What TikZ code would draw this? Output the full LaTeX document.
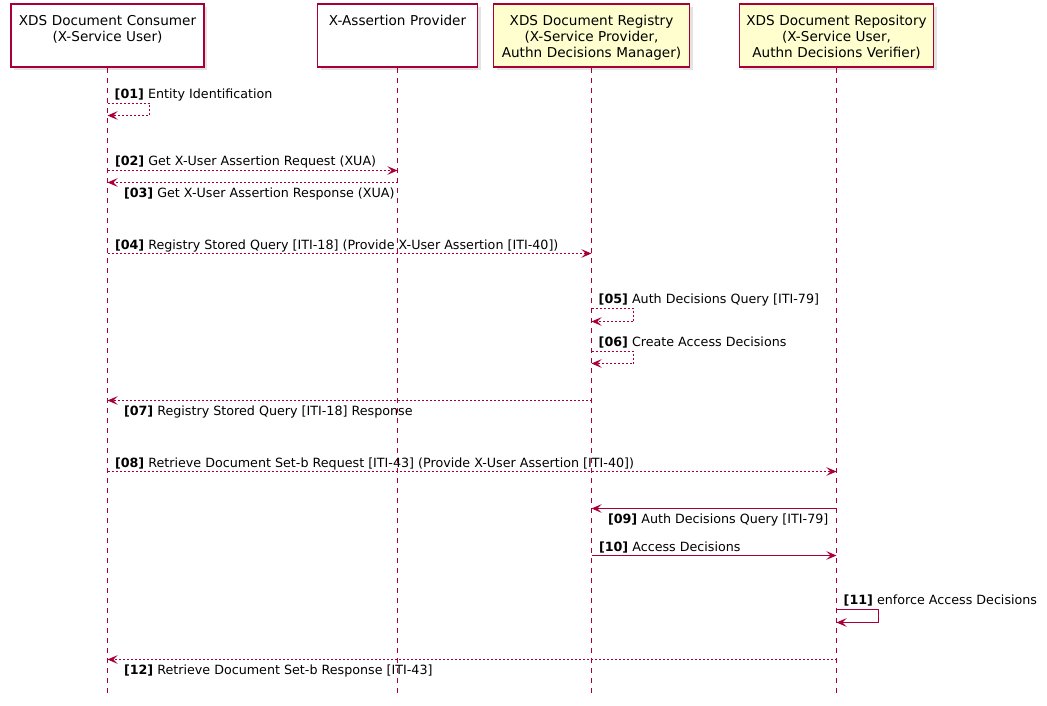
\documentclass[tikz,border=0pt]{standalone}
\usepackage{fontspec}
\setmainfont{DejaVu Sans}
\usetikzlibrary{arrows.meta,shadows}
\definecolor{uml}{HTML}{A80036}
\definecolor{pale}{HTML}{FEFECE}
\definecolor{shade}{HTML}{C8C8C8}
\newcommand{\nr}[1]{\textbf{[#1]}}
\tikzset{box/.style={draw=uml,line width=1.5pt,fill=white,anchor=north,align=center,
            text height=10pt,text depth=31pt,inner xsep=2pt,inner ysep=11pt,
            font=\fontsize{13.6}{16}\selectfont,
            drop shadow={shadow xshift=3pt,shadow yshift=-3pt,fill=shade,draw=none}},
         ybox/.style={box,fill=pale},
         life/.style={draw=uml,line width=1pt,dash pattern=on 5pt off 5pt},
         msg/.style={draw=uml,line width=1pt,-{Stealth[length=10pt,width=8.5pt,inset=4pt,fill=uml]}},
         dot/.style={msg,dash pattern=on 2pt off 2pt},
         txt/.style={anchor=base west,inner sep=0,xshift=7pt,yshift=4.5pt,text=black,font=\fontsize{12.7}{14}\selectfont},
         txtb/.style={anchor=base west,inner sep=0,xshift=16pt,yshift=-15pt,text=black,font=\fontsize{12.7}{14}\selectfont}}

\begin{document}
\begin{tikzpicture}[x=1pt,y=-1pt]
\useasboundingbox (0,0) rectangle (1047,706);
\node[box, text width=189pt] at (107.5,3.5)(c){XDS Document Consumer\\(X-Service User)};
\node[box, text width=156pt] at (397.5,3.5)(p){X-Assertion Provider};
\node[ybox, text width=192pt] at (591.5,3.5)(g){XDS Document Registry\\(X-Service Provider,\\Authn Decisions Manager)};
\node[ybox, text width=190pt] at (836.5,3.5)(r){XDS Document Repository\\(X-Service User,\\Authn Decisions Verifier)};
\draw[life] (c.south) -- (c.south |- 0,695);
\draw[life] (p.south) -- (p.south |- 0,695);
\draw[life] (g.south) -- (g.south |- 0,695);
\draw[life] (r.south) -- (r.south |- 0,695);
% requests and replies
\draw[dot] (c |- 0,103.5) -- ++(42,0) -- ++(0,12) -- (c |- 0,115.5);
\node[txt] at (c |- 0,103) {\nr{01} Entity Identification};
\draw[dot] (c |- 0,170.5) -- (p |- 0,170.5) node[txt, pos=0] {\nr{02} Get X-User Assertion Request (XUA)};
\draw[dot] (p |- 0,182.5) -- (c |- 0,182.5) node[txtb, pos=1] {\nr{03} Get X-User Assertion Response (XUA)};
\draw[dot] (c |- 0,253.5) -- (g |- 0,253.5) node[txt, pos=0] {\nr{04} Registry Stored Query [ITI-18] (Provide X-User Assertion [ITI-40])};
\draw[dot] (g |- 0,308.5) -- ++(42,0) -- ++(0,13) -- (g |- 0,321.5);
\node[txt] at (g |- 0,308) {\nr{05} Auth Decisions Query [ITI-79]};
\draw[dot] (g |- 0,351.5) -- ++(42,0) -- ++(0,12) -- (g |- 0,363.5);
\node[txt] at (g |- 0,351) {\nr{06} Create Access Decisions};
\draw[dot] (g |- 0,400.5) -- (c |- 0,400.5) node[txtb, pos=1] {\nr{07} Registry Stored Query [ITI-18] Response};
\draw[dot] (c |- 0,471.5) -- (r |- 0,471.5) node[txt, pos=0] {\nr{08} Retrieve Document Set-b Request [ITI-43] (Provide X-User Assertion [ITI-40])};
\draw[msg] (r |- 0,508.5) -- (g |- 0,508.5) node[txtb, pos=1] {\nr{09} Auth Decisions Query [ITI-79]};
\draw[msg] (g |- 0,555.5) -- (r |- 0,555.5) node[txt, pos=0] {\nr{10} Access Decisions};
\draw[msg] (r |- 0,609.5) -- ++(42,0) -- ++(0,13) -- (r |- 0,622.5);
\node[txt] at (r |- 0,609) {\nr{11} enforce Access Decisions};
\draw[dot] (r |- 0,659.5) -- (c |- 0,659.5) node[txtb, pos=1] {\nr{12} Retrieve Document Set-b Response [ITI-43]};
\end{tikzpicture}
\end{document}
